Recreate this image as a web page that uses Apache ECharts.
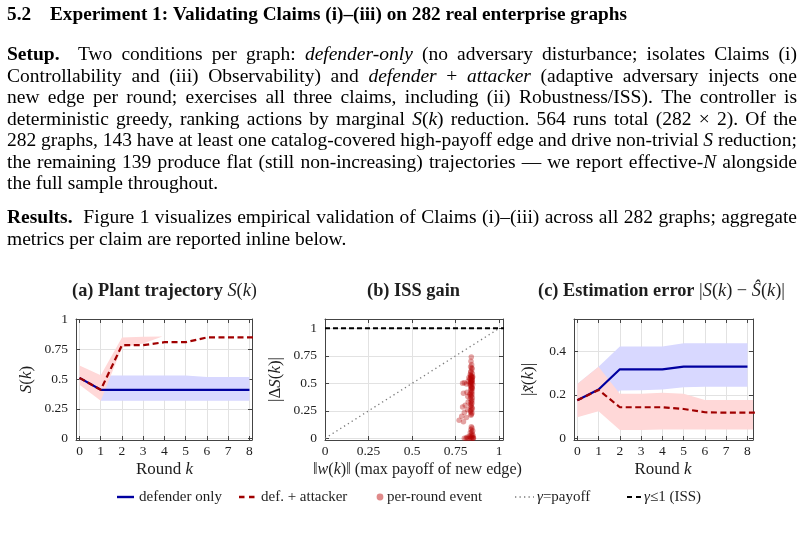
<!DOCTYPE html>
<html><head><meta charset="utf-8">
<script src="https://cdn.jsdelivr.net/npm/echarts@6/dist/echarts.min.js"></script>
<style>html,body{margin:0;padding:0;background:#fff}#c{width:805px;height:539px}</style>
</head><body><div id="c"></div>
<script>
// ---------- data ----------
const rounds = [0,1,2,3,4,5,6,7,8];
const roundsAtk = [0,1,2,3,4,5,6,7,8,9];
// (a) plant trajectory S(k)
const trajDef = [0.51,0.41,0.41,0.41,0.41,0.41,0.41,0.41,0.41];
const trajAtk = [0.51,0.41,0.785,0.785,0.81,0.81,0.85,0.85,0.85,0.85];
const trajDefBandX = [1,2,3,4,5,6,7,8];
const trajDefLo = [0.318,0.318,0.318,0.318,0.318,0.318,0.318,0.318];
const trajDefHi = [0.53,0.53,0.53,0.53,0.53,0.518,0.518,0.518];
const trajAtkBandX = [0,1,2,3,3.9];
const trajAtkLo = [0.453,0.318,0.765,0.80,0.858];
const trajAtkHi = [0.614,0.532,0.849,0.855,0.858];
// (b) ISS gain scatter
const gainX = [0.840,0.838,0.842,0.836,0.844,0.838,0.846,0.834,0.842,0.838,0.846,0.832,0.840,0.844,0.836,0.842,0.848,0.834,0.840,0.844,0.838,0.842,0.836,0.844,0.840,0.846,0.834,0.842,0.838,0.844,0.840,0.836,0.846,0.840,0.834,0.844,0.840,0.838,
  0.846,0.836,0.848,0.832,0.846,0.832,
  0.843,0.837,0.843,0.837,0.843,0.837,0.843,0.837,0.843,0.837,0.843,0.837,0.843,0.837,0.843,0.837,
  0.800,0.812,0.790,0.822,0.826,0.815,0.795,0.820,0.805,0.790,0.818,0.800,0.785,0.812,0.770,0.795,0.822,
  0.800,0.810,0.820,0.830,0.840,0.848,0.852,0.836,0.844,0.828,0.850,0.840,0.846,0.834,0.842,0.848,0.838,0.844,0.840,0.815,0.852];
const gainY = [0.74,0.70,0.67,0.65,0.63,0.61,0.59,0.58,0.57,0.56,0.55,0.54,0.53,0.52,0.51,0.50,0.49,0.48,0.47,0.46,0.45,0.43,0.41,0.40,0.39,0.37,0.36,0.35,0.33,0.32,0.30,0.29,0.27,0.26,0.25,0.23,0.22,0.21,
  0.53,0.57,0.56,0.50,0.45,0.40,
  0.64,0.60,0.555,0.545,0.525,0.515,0.505,0.485,0.465,0.44,0.42,0.38,0.34,0.31,0.28,0.24,
  0.505,0.495,0.50,0.52,0.55,0.42,0.41,0.38,0.30,0.285,0.26,0.235,0.20,0.19,0.165,0.15,0.33,
  0.0,0.0,0.0,0.0,0.0,0.0,0.005,0.01,0.015,0.02,0.025,0.03,0.04,0.05,0.06,0.07,0.08,0.095,0.105,0.01,0.0];
const diagX = [0,1], diagY = [0,1];
const issX = [0,1.05], issY = [1,1];
// (c) estimation error
const errDef = [0.175,0.225,0.318,0.318,0.318,0.33,0.33,0.33,0.33];
const errAtk = [0.175,0.223,0.143,0.143,0.143,0.135,0.12,0.118,0.118,0.118];
const errDefLo = [0.10,0.13,0.22,0.222,0.225,0.235,0.238,0.238,0.238];
const errDefHi = [0.25,0.33,0.423,0.423,0.423,0.438,0.438,0.438,0.438];
const errAtkLo = [0.097,0.125,0.038,0.038,0.04,0.04,0.04,0.04,0.04,0.04];
const errAtkHi = [0.25,0.33,0.205,0.205,0.21,0.205,0.177,0.177,0.177,0.177];

// ---------- styling helpers ----------
const FAM = 'Liberation Serif';
const BLUE = '#0000a0', RED = '#a00000', BBAND = '#d8d8ff', RBAND = '#ffd8d8';
const cv = document.createElement('canvas').getContext('2d');
function fnt(st, size){ return (st.includes('i')?'italic ':'normal ')+(st.includes('b')?'bold ':'normal ')+size+'px "'+FAM+'"'; }
function mw(t, st, size){ cv.font = fnt(st,size); return cv.measureText(t).width; }
function runEl(x, st, t, size, color){
  return {type:'text', x:x, y:0, silent:true, style:{text:t, fontFamily:FAM, fontSize:size,
    fontStyle: st.includes('i')?'italic':'normal', fontWeight: st.includes('b')?'bold':'normal',
    fill:color, textAlign:'left', textVerticalAlign:'middle', align:'left', verticalAlign:'middle'}};
}
function block(x, y, runs, size, opt){
  opt = opt || {};
  const ws = runs.map(r=>mw(r[1], r[0], size));
  const tot = ws.reduce((a,b)=>a+b,0);
  let off = opt.align==='center' ? -tot/2 : 0;
  const children = [];
  runs.forEach((r,i)=>{ children.push(runEl(off, r[0], r[1], size, opt.color||'#000')); off += ws[i]; });
  return {type:'group', x:x, y:y, rotation: opt.rot||0, children:children, silent:true};
}
function fitSize(runs, width){ const w = runs.reduce((a,r)=>a+mw(r[1],r[0],100),0); return 100*width/w; }
function justifyLine(y, runs, x0, x1, size, last){
  const words=[]; let cur=[]; const gapW=[]; let pend=0;
  runs.forEach(([st,t])=>{
    t.split(/( +)/).forEach(p=>{
      if(p==='') return;
      if(/^ +$/.test(p)){ if(cur.length){ words.push(cur); cur=[]; } pend += p.length; }
      else { if(!cur.length && words.length){ gapW.push(pend); } pend=0; cur.push([st,p]); }
    });
  });
  if(cur.length) words.push(cur);
  const ww = words.map(w=>w.reduce((a,[st,t])=>a+mw(t,st,size),0));
  const sp = mw(' ','r',size);
  const totW = ww.reduce((a,b)=>a+b,0), totG = gapW.reduce((a,b)=>a+b,0);
  const g = last ? sp : (x1-x0-totW)/totG;
  const children=[]; let x=x0;
  words.forEach((w,i)=>{
    w.forEach(([st,t])=>{ children.push(runEl(x, st, t, size, '#000')); x += mw(t,st,size); });
    if(i<gapW.length) x += gapW[i]*g;
  });
  return {type:'group', x:0, y:y, children:children, silent:true};
}

// ---------- text content ----------
const heading = [['b','Experiment 1: Validating Claims (i)–(iii) on 282 real enterprise graphs']];
const setupLines = [
  [['b','Setup.'],['r','  Two conditions per graph: '],['i','defender-only'],['r',' (no adversary disturbance; isolates Claims (i)']],
  [['r','Controllability and (iii) Observability) and '],['i','defender'],['r',' + '],['i','attacker'],['r',' (adaptive adversary injects one']],
  [['r','new edge per round; exercises all three claims, including (ii) Robustness/ISS). The controller is']],
  [['r','deterministic greedy, ranking actions by marginal '],['i','S'],['r','('],['i','k'],['r',') reduction. 564 runs total (282 × 2). Of the']],
  [['r','282 graphs, 143 have at least one catalog-covered high-payoff edge and drive non-trivial '],['i','S'],['r',' reduction;']],
  [['r','the remaining 139 produce flat (still non-increasing) trajectories — we report effective-'],['i','N'],['r',' alongside']],
  [['r','the full sample throughout.']]
];
const resultLines = [
  [['b','Results.'],['r','  Figure 1 visualizes empirical validation of Claims (i)–(iii) across all 282 graphs; aggregate']],
  [['r','metrics per claim are reported inline below.']]
];
const titleA = [['b','(a) Plant trajectory '],['i','S'],['r','('],['i','k'],['r',')']];
const titleB = [['b','(b) ISS gain']];
const titleC = [['b','(c) Estimation error '],['r','|'],['i','S'],['r','('],['i','k'],['r',') − '],['i','Ŝ'],['r','('],['i','k'],['r',')|']];
const xLabelA = [['r','Round '],['i','k']];
const xLabelB = [['r','‖'],['i','w'],['r','('],['i','k'],['r',')‖ (max payoff of new edge)']];
const yLabelA = [['i','S'],['r','('],['i','k'],['r',')']];
const yLabelB = [['r','|Δ'],['i','S'],['r','('],['i','k'],['r',')|']];
const yLabelC = [['r','|'],['i','x̃'],['r','('],['i','k'],['r',')|']];
const legendNames = ['defender only','def. + attacker','per-round event'];

// ---------- axes ----------
const TXT = '#1e1e1e';
function fmtStep(step){ return function(v){ const q=v/step; if(Math.abs(q-Math.round(q))>1e-6) return ''; return String(Math.round(v*100)/100); }; }
function axis(kind, g, min, max, step, primary, pos){
  return {type:'value', gridIndex:g, min:min, max:max, minInterval:step, maxInterval:step,
    splitNumber: Math.round((max-min)/step), position:pos,
    axisLine:{show:true, onZero:false, lineStyle:{color:'#444', width:1}},
    axisTick:{show:true, inside:true, length:4, lineStyle:{color:'#444', width:1}},
    axisLabel:{show:primary, margin: kind==='x'?4:8, formatter: fmtStep(step), fontFamily:FAM, fontSize:13.5, color:TXT},
    splitLine:{show:primary, lineStyle:{color:'#e2e2e2', width:1}}};
}
const grids = [
  {left:76, top:319, width:176, height:121},
  {left:325, top:319, width:178, height:121},
  {left:574, top:319, width:179, height:121}
];
const xr = [[-0.165,8.12,1],[0,1.022,0.25],[-0.155,8.26,1]];
const yr = [[-0.012,1.005,0.25],[-0.015,1.085,0.25],[-0.008,0.55,0.2]];
const xAxes=[], yAxes=[];
for(let g=0; g<3; g++){
  xAxes.push(axis('x', g, xr[g][0], xr[g][1], xr[g][2], true, 'bottom'));
  xAxes.push(axis('x', g, xr[g][0], xr[g][1], xr[g][2], false, 'top'));
  yAxes.push(axis('y', g, yr[g][0], yr[g][1], yr[g][2], true, 'left'));
  yAxes.push(axis('y', g, yr[g][0], yr[g][1], yr[g][2], false, 'right'));
}

// ---------- series ----------
function band(xs, lo, hi, color, ai, xmax){
  return {type:'custom', xAxisIndex:ai, yAxisIndex:ai, data:[[xs[0], lo[0]]], z:1, silent:true,
    renderItem:function(params, api){
      const P=[], Q=[];
      for(let i=0;i<xs.length;i++){
        let x=xs[i], l=lo[i], h=hi[i];
        if(x>xmax && i>0){
          const t=(xmax-xs[i-1])/(x-xs[i-1]);
          l=lo[i-1]+t*(l-lo[i-1]); h=hi[i-1]+t*(h-hi[i-1]); x=xmax;
          P.push(api.coord([x,h])); Q.push(api.coord([x,l])); break;
        }
        P.push(api.coord([x,h])); Q.push(api.coord([x,l]));
      }
      return {type:'polygon', shape:{points:P.concat(Q.reverse())}, style:{fill:color}};
    }};
}
function line(name, xs, ys, ai, style, z){
  return {type:'line', name:name, xAxisIndex:ai, yAxisIndex:ai, data:xs.map((x,i)=>[x,ys[i]]),
    showSymbol:false, symbol:'none', lineStyle:style, z:z||3, clip:true, silent:true};
}
const blueStyle = {color:BLUE, width:2.2, type:'solid'};
const redStyle = {color:RED, width:2.2, type:[6,3.5]};
const series = [
  band(trajDefBandX, trajDefLo, trajDefHi, BBAND, 0, 8.12),
  band(trajAtkBandX, trajAtkLo, trajAtkHi, RBAND, 0, 8.12),
  line('defender only', rounds, trajDef, 0, blueStyle),
  line('def. + attacker', roundsAtk, trajAtk, 0, redStyle, 4),
  line('γ=payoff', diagX, diagY, 2, {color:'#7a7a7a', width:1.3, type:[1.3,3.2]}),
  line('γ≤1 (ISS)', issX, issY, 2, {color:'#000', width:2, type:[5,3]}),
  {type:'scatter', name:'per-round event', xAxisIndex:2, yAxisIndex:2, data:gainX.map((x,i)=>[x,gainY[i]]),
    symbolSize:5.5, itemStyle:{color:'rgba(180,0,0,0.45)'}, z:2, silent:true},
  band(rounds, errDefLo, errDefHi, BBAND, 4, 8.26),
  band(roundsAtk, errAtkLo, errAtkHi, RBAND, 4, 8.26),
  line('defender only', rounds, errDef, 4, blueStyle),
  line('def. + attacker', roundsAtk, errAtk, 4, redStyle, 4)
];

// ---------- graphic (text + legend) ----------
const G = [];
const BODY = 19.5;
const hs = fitSize(heading, 577);
G.push(block(7, 15, [['b','5.2']], hs));
G.push(block(50, 15, heading, hs));
const setupY = [55,76.5,98,119.5,141,162.5,184];
setupLines.forEach((ln,i)=>G.push(justifyLine(setupY[i], ln, 7, 797, BODY, i===setupLines.length-1)));
const resY = [218,239.5];
resultLines.forEach((ln,i)=>G.push(justifyLine(resY[i], ln, 7, 797, BODY, i===resultLines.length-1)));
// subplot titles
G.push(block(164.5, 291.5, titleA, fitSize(titleA,185), {align:'center', color:TXT}));
G.push(block(413.5, 291.5, titleB, fitSize(titleB,93), {align:'center', color:TXT}));
G.push(block(661.5, 291.5, titleC, fitSize(titleC,247), {align:'center', color:TXT}));
// axis titles
const xs = fitSize(xLabelA, 57);
G.push(block(164.5, 470, xLabelA, xs, {align:'center', color:TXT}));
G.push(block(417.5, 470, xLabelB, fitSize(xLabelB, 209), {align:'center', color:TXT}));
G.push(block(663, 470, xLabelA, xs, {align:'center', color:TXT}));
G.push(block(27, 379.5, yLabelA, xs, {align:'center', color:TXT, rot:Math.PI/2}));
G.push(block(276, 379.5, yLabelB, xs, {align:'center', color:TXT, rot:Math.PI/2}));
G.push(block(529, 379.5, yLabelC, xs, {align:'center', color:TXT, rot:Math.PI/2}));
// legend
const LY = 497, LS = 15;
G.push({type:'line', silent:true, shape:{x1:117,y1:LY,x2:134,y2:LY}, style:{stroke:BLUE, lineWidth:2.4}});
G.push(block(139, LY, [['r',legendNames[0]]], LS, {color:TXT}));
G.push({type:'line', silent:true, shape:{x1:239,y1:LY,x2:255,y2:LY}, style:{stroke:RED, lineWidth:2.4, lineDash:[5.5,4.5]}});
G.push(block(261, LY, [['r',legendNames[1]]], LS, {color:TXT}));
G.push({type:'circle', silent:true, shape:{cx:380, cy:LY, r:3.4}, style:{fill:'#e08a8a'}});
G.push(block(387, LY, [['r',legendNames[2]]], LS, {color:TXT}));
G.push({type:'line', silent:true, shape:{x1:515,y1:LY,x2:534,y2:LY}, style:{stroke:'#7a7a7a', lineWidth:1.3, lineDash:[1.3,3.2]}});
G.push(block(537, LY, [['i','γ'],['r','=payoff']], LS, {color:TXT}));
G.push({type:'line', silent:true, shape:{x1:627,y1:LY,x2:641,y2:LY}, style:{stroke:'#000', lineWidth:2, lineDash:[5,4]}});
G.push(block(644, LY, [['i','γ'],['r','≤1 (ISS)']], LS, {color:TXT}));

const chart = echarts.init(document.getElementById('c'), null, {renderer:'canvas'});
chart.setOption({
  animation:false,
  backgroundColor:'#fff',
  grid:grids,
  xAxis:xAxes,
  yAxis:yAxes,
  series:series,
  graphic:{elements:G}
});
</script>
</body></html>
